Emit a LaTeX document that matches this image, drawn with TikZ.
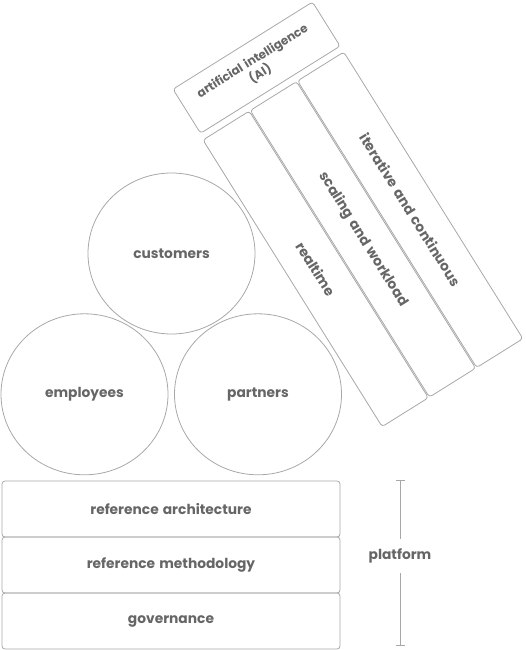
\documentclass[tikz,border=0pt]{standalone}
\usepackage{fontspec}
\setmainfont{Poppins}[WordSpace=1.4]
\usetikzlibrary{arrows.meta,positioning,shapes.geometric}
\definecolor{linegray}{HTML}{A8A8A8}
\definecolor{textgray}{HTML}{666666}

\begin{document}
\begin{tikzpicture}[x=1pt, y=-1pt, line width=0.8pt,
    every node/.style={font=\fontsize{13.8}{16}\selectfont\bfseries, text=textgray},
    ring/.style={draw=linegray, ellipse, minimum width=167pt, minimum height=161pt, inner sep=0pt},
    layer/.style={draw=linegray, rounded corners=3pt, minimum width=338pt, minimum height=56pt},
    bar/.style={draw=linegray, rounded corners=3pt, minimum width=338pt, minimum height=54.5pt, rotate=-90},
    aibox/.style={draw=linegray, rounded corners=3pt, minimum width=164.5pt, minimum height=52pt, align=center,
        font=\fontsize{12}{15}\selectfont\bfseries}]
    \useasboundingbox (0,0) rectangle (526,650);
    % stakeholders
    \node[ring] (customers) at (171.5,253.5) {customers};
    \node[ring] (employees) at (84.5,394.3) {employees};
    \node[ring] (partners) at (258,394.3) {partners};
    % tilted pillars with the AI roof
    \begin{scope}[shift={(203,140)}, rotate=32, transform shape]
        \foreach \u/\name/\txt in {27.25/realtime/realtime,
                                   83/scaling/scaling and workload,
                                   138.75/iterative/iterative and continuous}{
            \node[bar] (\name) at (\u,169) {\txt};
        }
        \node[aibox] (ai) at (83.75,-33) {artificial intelligence\\(AI)};
    \end{scope}
    % platform layers
    \foreach \y/\name/\txt in {509/refarch/reference architecture,
                               565/refmeth/reference methodology,
                               621/governance/governance}{
        \node[layer] (\name) at (171,\y) {\txt};
    }
    \node[minimum height=34pt] (platform) at (400,556) {platform};
    \coordinate (ptop) at (400,480);
    \coordinate (pbot) at (400,646);
    \draw[linegray, {Bar[width=9pt]}-] (ptop) -- (platform.north);
    \draw[linegray, -{Bar[width=9pt]}] (platform.south) -- (pbot);
\end{tikzpicture}
\end{document}
